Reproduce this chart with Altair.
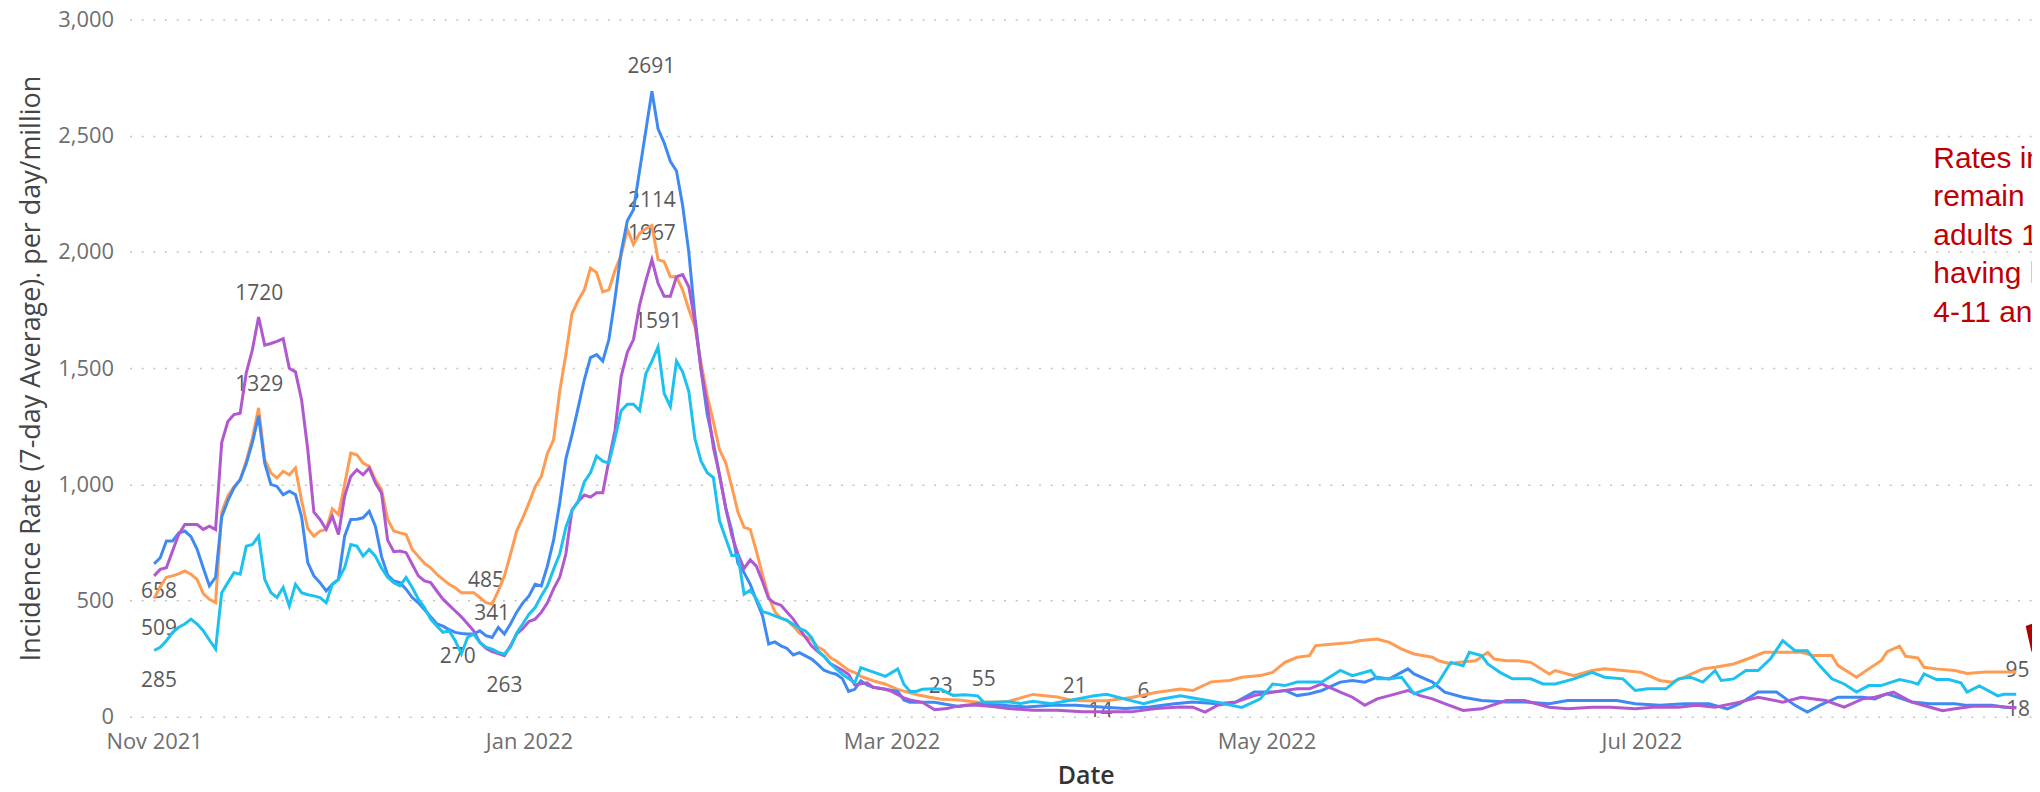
import altair as alt
import pandas as pd

START = pd.Timestamp("2021-11-01")

SERIES = ["Adults 18-49", "Ages 12-17", "Adults 50+", "Ages 4-11"]
COLORS = ["#FF9B52", "#3F8AF2", "#B157CF", "#1DC1F0"]

# (days since 1 Nov 2021, rate)
ORANGE = [(0,509),(1,560),(2,600),(3,606),(4,615),(5,627),(6,613),(7,591),(8,530),(9,505),(10,491),(11,880),(12,950),(13,990),(14,1020),(15,1100),(16,1200),(17,1329),(18,1106),(19,1049),(20,1027),(21,1056),(22,1041),(23,1070),(24,930),(25,810),(26,777),(27,799),(28,806),(29,895),(30,870),(31,1000),(32,1134),(33,1127),(34,1091),(35,1077),(36,1020),(37,977),(38,849),(39,799),(40,791),(41,784),(42,720),(43,690),(44,660),(45,641),(46,613),(47,591),(48,570),(49,555),(50,534),(51,534),(52,534),(53,513),(54,491),(55,485),(56,541),(57,606),(58,700),(59,800),(60,856),(61,920),(62,990),(63,1034),(64,1134),(65,1191),(66,1400),(67,1560),(68,1735),(69,1791),(70,1837),(71,1930),(72,1911),(73,1828),(74,1837),(75,1921),(76,1986),(77,2097),(78,2032),(79,2079),(80,2100),(81,2114),(82,1967),(83,1958),(84,1893),(85,1893),(86,1837),(87,1753),(88,1679),(89,1521),(90,1382),(91,1270),(92,1149),(93,1094),(94,990),(95,880),(96,815),(97,806),(98,713),(99,610),(100,517),(101,452),(102,424),(103,415),(104,390),(105,360),(106,345),(107,332),(108,300),(109,285),(110,255),(111,240),(112,220),(113,200),(114,190),(115,174),(117,155),(119,140),(121,118),(124,96),(126,85),(128,75),(131,72),(134,62),(136,62),(139,66),(141,81),(143,96),(145,90),(147,85),(149,72),(151,69),(155,69),(159,83),(163,104),(167,119),(169,113),(172,150),(175,156),(177,170),(180,177),(182,191),(184,234),(186,256),(188,263),(189,306),(192,313),(195,320),(196,327),(199,334),(201,320),(203,291),(205,270),(208,256),(209,241),(211,227),(212,234),(215,241),(217,277),(218,249),(220,241),(222,241),(224,234),(227,184),(228,199),(231,177),(234,199),(236,206),(239,199),(242,191),(245,156),(247,149),(249,170),(252,206),(254,213),(257,227),(260,256),(262,277),(265,277),(268,277),(270,263),(273,263),(274,220),(277,170),(279,206),(281,241),(282,280),(284,304),(285,260),(287,253),(288,213),(290,206),(293,199),(295,186),(298,193),(301,193),(303,193)]

BLUE = [(0,658),(1,684),(2,756),(3,756),(4,790),(5,799),(6,775),(7,720),(8,640),(9,563),(10,600),(11,860),(12,930),(13,985),(14,1020),(15,1090),(16,1180),(17,1295),(18,1091),(19,1000),(20,991),(21,955),(22,970),(23,956),(24,860),(25,663),(26,606),(27,577),(28,541),(29,570),(30,591),(31,777),(32,849),(33,850),(34,856),(35,884),(36,820),(37,690),(38,610),(39,584),(40,577),(41,549),(42,513),(43,490),(44,460),(45,430),(46,400),(47,390),(48,375),(49,363),(50,358),(51,356),(52,356),(53,370),(54,349),(55,341),(56,384),(57,356),(58,400),(59,450),(60,490),(61,520),(62,570),(63,563),(64,649),(65,760),(66,920),(67,1110),(68,1214),(69,1330),(70,1450),(71,1545),(72,1558),(73,1530),(74,1623),(75,1800),(76,2000),(77,2134),(78,2181),(79,2350),(80,2520),(81,2691),(82,2530),(83,2469),(84,2390),(85,2348),(86,2200),(87,2000),(88,1720),(89,1493),(90,1300),(91,1180),(92,1040),(93,900),(94,800),(95,660),(96,620),(97,570),(98,500),(99,434),(100,313),(101,322),(102,305),(103,294),(104,266),(105,276),(106,262),(107,248),(108,225),(109,200),(110,190),(111,183),(112,164),(113,109),(114,118),(115,155),(116,137),(117,127),(119,118),(121,109),(122,72),(123,62),(125,62),(127,62),(129,53),(131,44),(134,56),(138,49),(142,42),(146,49),(150,49),(154,42),(158,35),(162,42),(166,56),(169,63),(173,56),(176,63),(179,106),(182,106),(184,113),(186,91),(188,99),(190,113),(193,149),(195,156),(197,149),(199,170),(201,163),(204,206),(205,184),(208,149),(210,106),(213,84),(216,70),(220,63),(223,63),(227,56),(230,70),(234,70),(238,70),(241,56),(245,49),(249,56),(253,56),(256,34),(258,56),(261,106),(264,106),(267,49),(269,20),(271,49),(274,84),(278,84),(280,77),(282,99),(286,63),(289,56),(293,56),(295,49),(299,49),(301,41),(303,40)]

PURPLE = [(0,606),(1,634),(2,641),(3,713),(4,784),(5,827),(6,827),(7,827),(8,806),(9,820),(10,805),(11,1180),(12,1270),(13,1300),(14,1306),(15,1480),(16,1580),(17,1720),(18,1599),(19,1606),(20,1615),(21,1627),(22,1499),(23,1484),(24,1363),(25,1150),(26,880),(27,849),(28,806),(29,863),(30,784),(31,949),(32,1034),(33,1063),(34,1041),(35,1070),(36,1006),(37,963),(38,760),(39,710),(40,713),(41,706),(42,656),(43,606),(44,584),(45,577),(46,541),(47,506),(48,480),(49,455),(50,430),(51,400),(52,370),(53,320),(54,295),(55,280),(56,272),(57,263),(58,306),(59,356),(60,380),(61,410),(62,420),(63,449),(64,490),(65,550),(66,600),(67,700),(68,889),(69,926),(70,954),(71,945),(72,964),(73,964),(74,1103),(75,1233),(76,1465),(77,1568),(78,1623),(79,1772),(80,1874),(81,1967),(82,1865),(83,1809),(84,1809),(85,1893),(86,1902),(87,1850),(88,1700),(89,1493),(90,1344),(91,1159),(92,1040),(93,900),(94,780),(95,700),(96,638),(97,675),(98,648),(99,582),(100,508),(101,489),(102,480),(103,450),(104,420),(105,380),(106,341),(107,304),(108,280),(109,260),(110,229),(111,215),(112,200),(113,183),(114,137),(116,146),(117,127),(119,118),(120,109),(122,81),(123,72),(125,62),(127,30),(129,35),(130,42),(132,50),(134,49),(136,45),(139,35),(143,28),(147,28),(151,21),(155,21),(159,21),(163,35),(167,42),(169,41),(171,20),(173,49),(176,63),(179,91),(182,106),(186,120),(188,120),(190,141),(193,106),(195,84),(197,49),(199,77),(201,91),(204,113),(206,91),(208,77),(210,56),(213,27),(216,34),(220,70),(223,70),(227,41),(230,34),(234,41),(237,41),(241,34),(244,41),(248,41),(251,49),(254,41),(258,63),(261,84),(265,63),(268,84),(272,70),(275,41),(278,77),(280,84),(283,106),(286,63),(289,41),(291,26),(293,34),(296,45),(300,45),(303,38)]

CYAN = [(0,285),(1,299),(2,327),(3,363),(4,385),(5,399),(6,420),(7,399),(8,370),(9,330),(10,291),(11,534),(12,577),(13,620),(14,613),(15,734),(16,741),(17,777),(18,591),(19,534),(20,513),(21,556),(22,477),(23,570),(24,534),(25,525),(26,520),(27,513),(28,491),(29,570),(30,591),(31,641),(32,741),(33,734),(34,691),(35,720),(36,691),(37,640),(38,600),(39,577),(40,563),(41,599),(42,556),(43,506),(44,470),(45,420),(46,391),(47,363),(48,370),(49,327),(50,270),(51,341),(52,356),(53,320),(54,299),(55,291),(56,277),(57,270),(58,300),(59,360),(60,400),(61,441),(62,470),(63,520),(64,563),(65,634),(66,700),(67,815),(68,889),(69,926),(70,1010),(71,1049),(72,1122),(73,1100),(74,1091),(75,1200),(76,1317),(77,1345),(78,1345),(79,1317),(80,1475),(81,1530),(82,1591),(83,1391),(84,1335),(85,1530),(86,1484),(87,1400),(88,1196),(89,1100),(90,1050),(91,1029),(92,843),(93,768),(94,694),(95,694),(96,527),(97,545),(98,508),(99,452),(100,445),(101,434),(103,415),(104,397),(105,380),(106,369),(107,341),(108,285),(109,260),(110,229),(112,183),(114,146),(115,211),(116,202),(118,183),(119,174),(121,206),(122,140),(123,109),(124,109),(125,118),(127,120),(128,118),(130,92),(132,95),(134,90),(135,62),(137,62),(139,64),(141,57),(143,67),(146,56),(150,75),(153,90),(155,97),(158,76),(161,56),(164,76),(167,90),(170,76),(173,62),(177,40),(180,77),(182,141),(184,134),(186,149),(188,149),(190,149),(193,199),(195,177),(198,199),(199,163),(201,163),(203,170),(205,99),(208,127),(209,149),(211,234),(213,220),(214,277),(216,263),(217,227),(219,191),(221,163),(224,163),(226,141),(228,141),(231,163),(234,191),(236,170),(239,163),(241,113),(243,120),(246,120),(248,163),(250,170),(252,149),(254,199),(255,156),(257,163),(259,199),(261,199),(263,249),(265,327),(267,284),(269,284),(271,220),(273,163),(275,141),(277,106),(279,134),(281,134),(284,160),(286,149),(287,140),(288,184),(290,160),(292,160),(294,146),(295,106),(297,133),(300,90),(301,97),(303,97)]

# data labels (text, day, value at label position)
LABEL_TEXT = ["658", "509", "285", "1720", "1329", "485", "341", "270", "263",
              "2691", "2114", "1967", "1591", "23", "55", "21", "14", "6", "95", "18"]
LABEL_DAY = [0.8, 0.8, 0.8, 17.1, 17.1, 54.0, 55.0, 49.4, 57.0,
             80.9, 81.0, 81.0, 82.0, 128.0, 135.0, 149.8, 154.0, 161.0, 303.2, 303.3]
LABEL_VAL = [536, 377, 152, 1820, 1427, 584, 441, 256, 134,
             2794, 2218, 2079, 1698, 127, 156, 127, 24, 106, 198, 31]

NOTE_LINES = ["Rates in all age groups", "remain low, with", "adults 18-49 now",
              "having higher rates than", "4-11 and 50+ groups"]
NOTE_DAY = 289.5
NOTE_VAL = [2363, 2199, 2031, 1865, 1698]

ARROW_DAY = 306.3
ARROW_VAL = 369

Y_TICKS = [0, 500, 1000, 1500, 2000, 2500, 3000]


def to_date(d):
    return START + pd.to_timedelta(d, unit="D")


rows = []
for name, pts in zip(SERIES, [ORANGE, BLUE, PURPLE, CYAN]):
    for d, v in pts:
        rows.append({"series": name, "date": to_date(d), "value": v})
lines_df = pd.DataFrame(rows)

labels_df = pd.DataFrame({
    "label": LABEL_TEXT,
    "date": [to_date(d) for d in LABEL_DAY],
    "value": LABEL_VAL,
})

note_df = pd.DataFrame({
    "label": NOTE_LINES,
    "date": [to_date(NOTE_DAY)] * len(NOTE_LINES),
    "value": NOTE_VAL,
})

arrow_df = pd.DataFrame({"date": [to_date(ARROW_DAY)], "value": [ARROW_VAL]})

x_scale = alt.Scale(
    domain=[alt.DateTime(year=2021, month=10, date=28),
            alt.DateTime(year=2022, month=9, date=2, hours=13, minutes=26)],
    nice=False,
)
y_scale = alt.Scale(domain=[0, 3000], nice=False)

FONT = "Open Sans"

x_axis = alt.Axis(
    values=[alt.DateTime(year=2021, month=11, date=1),
            alt.DateTime(year=2022, month=1, date=1),
            alt.DateTime(year=2022, month=3, date=1),
            alt.DateTime(year=2022, month=5, date=1),
            alt.DateTime(year=2022, month=7, date=1)],
    format="%b %Y",
    labelFont=FONT, labelFontSize=22, labelColor="#6E6E6E",
    labelPadding=32, labelBaseline="alphabetic",
    labelFlush=False, labelOverlap=False,
    ticks=False, tickSize=0, domain=False, grid=False,
    title="Date", titleFont=FONT, titleFontSize=25, titleFontWeight=600,
    titleColor="#333333", titleX=960, titleY=67,
    titleAlign="center", titleBaseline="alphabetic",
)

y_axis = alt.Axis(
    values=Y_TICKS, format=",d",
    labelFont=FONT, labelFontSize=22, labelColor="#6E6E6E", labelPadding=16,
    ticks=False, tickSize=0, domain=False,
    grid=True, gridColor="#C4C4C4", gridDash=[2, 9.7], gridWidth=1.5,
    title="Incidence Rate (7-day Average). per day/million",
    titleFont=FONT, titleFontSize=27, titleFontWeight="normal",
    titleColor="#454545", titleAngle=270, titleAlign="center",
    titleBaseline="middle", titleX=-98, titleY=350,
)

X = alt.X("date:T", scale=x_scale, axis=x_axis)
Y = alt.Y("value:Q", scale=y_scale, axis=y_axis)

labels = alt.Chart(labels_df).mark_text(
    font=FONT, fontSize=21, color="#5A5A5A", align="center", baseline="middle"
).encode(x=X, y=Y, text="label:N")

lines = alt.Chart(lines_df).mark_line(strokeWidth=3, interpolate="linear").encode(
    x=X, y=Y,
    color=alt.Color("series:N", scale=alt.Scale(domain=SERIES, range=COLORS), legend=None),
)

note = alt.Chart(note_df).mark_text(
    font="Liberation Sans", fontSize=30, color="#C00000", align="left", baseline="alphabetic"
).encode(x=X, y=Y, text="label:N")

arrow = alt.Chart(arrow_df).mark_point(
    shape="M -0.52 -0.24 L 0.81 -0.71 L -0.24 1 Z", size=1764,
    filled=True, color="#B00000", opacity=1,
).encode(x=X, y=Y)

chart = alt.layer(labels, lines, note, arrow).properties(
    width=1910,
    height=700,
    background="white",
    autosize=alt.AutoSizeParams(type="none"),
    padding={"left": 122, "top": 10, "right": 0, "bottom": 72},
).configure_view(strokeWidth=0)

chart.save("out.html", embed_options={"renderer": "svg", "actions": False})
